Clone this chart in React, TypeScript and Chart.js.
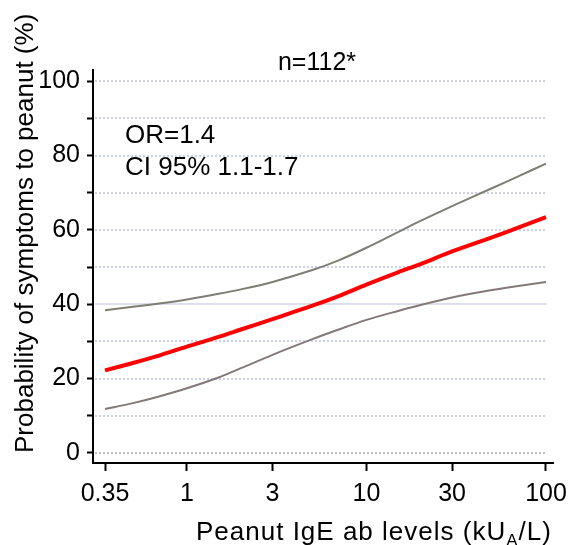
import React, { useEffect, useRef } from 'react';
import { Chart, registerables } from 'chart.js';

Chart.register(...registerables);

// ---- Data ----
const xLevels = [0.35, 0.5, 0.7, 1, 1.5, 2, 3, 5, 7, 10, 15, 20, 30, 50, 70, 100];
const probability = [22.2, 24.2, 26.2, 28.6, 31.2, 33.2, 36.0, 39.6, 42.2, 45.3, 48.6, 50.8, 54.2, 58.0, 60.6, 63.4];
const upperCI = [38.4, 39.3, 40.2, 41.3, 42.8, 44.0, 46.0, 49.2, 51.8, 55.2, 59.4, 62.4, 66.4, 71.2, 74.4, 77.8];
const lowerCI = [11.8, 13.4, 15.2, 17.4, 20.3, 22.8, 26.4, 30.6, 33.2, 35.8, 38.2, 39.8, 41.8, 43.8, 44.9, 46.0];

const xTickValues = [0.35, 1, 3, 10, 30, 100];
const xTickLabels = ['0.35', '1', '3', '10', '30', '100'];
const yTickValues = [0, 10, 20, 30, 40, 50, 60, 70, 80, 90, 100];
const yTickLabels = ['0', '', '20', '', '40', '', '60', '', '80', '', '100'];

const chartTitle = 'n=112*';
const noteLines = ['OR=1.4', 'CI 95% 1.1-1.7'];
const yTitle = 'Probability of symptoms to peanut (%)';
const xTitleMain = 'Peanut IgE ab levels (kU';
const xTitleSub = 'A';
const xTitleEnd = '/L)';
const referenceLine = 40;

const FONT = '"Liberation Sans", Arial, Helvetica, sans-serif';

const overlayPlugin = {
  id: 'overlay',
  beforeDatasetsDraw(chart: any) {
    const { ctx, chartArea, scales } = chart;
    const ys = scales.y;
    const xs = scales.x;
    const x0 = chartArea.left + 2;
    const x1 = xs.getPixelForValue(100) + 1;
    ctx.save();
    for (const v of yTickValues) {
      const y = Math.round(ys.getPixelForValue(v));
      ctx.beginPath();
      if (v === referenceLine) {
        ctx.setLineDash([]);
        ctx.strokeStyle = '#dcdfee';
      } else {
        ctx.setLineDash([2, 2]);
        ctx.strokeStyle = v === 0 ? '#bdbdbd' : '#ccd0e6';
      }
      ctx.lineWidth = 2;
      ctx.moveTo(x0, y);
      ctx.lineTo(x1, y);
      ctx.stroke();
    }
    ctx.restore();
  },
  afterDraw(chart: any) {
    const { ctx } = chart;
    ctx.save();
    ctx.fillStyle = '#000';
    ctx.textBaseline = 'alphabetic';

    // chart title
    ctx.font = `25px ${FONT}`;
    ctx.textAlign = 'center';
    ctx.fillText(chartTitle, 317, 70);

    // note text
    ctx.font = `26px ${FONT}`;
    ctx.textAlign = 'left';
    ctx.fillText(noteLines[0], 125, 143);
    ctx.fillText(noteLines[1], 125, 175);

    // y title
    ctx.save();
    ctx.translate(33, 453);
    ctx.rotate(-Math.PI / 2);
    ctx.font = `26px ${FONT}`;
    ctx.textAlign = 'left';
    ctx.fillText(yTitle, 0, 0);
    ctx.restore();

    // x title with subscript
    let x = 196;
    const base = 540;
    ctx.font = `26px ${FONT}`;
    (ctx as any).letterSpacing = '1px';
    ctx.fillText(xTitleMain, x, base);
    x += ctx.measureText(xTitleMain).width;
    ctx.font = `17px ${FONT}`;
    ctx.fillText(xTitleSub, x, base + 6);
    x += ctx.measureText(xTitleSub).width;
    ctx.font = `26px ${FONT}`;
    ctx.fillText(xTitleEnd, x, base);
    (ctx as any).letterSpacing = '0px';
    ctx.restore();
  },
};

export default function App() {
  const canvasRef = useRef<HTMLCanvasElement | null>(null);

  useEffect(() => {
    const canvas = canvasRef.current;
    if (!canvas) return;
    const toPoints = (ys: number[]) => xLevels.map((x, i) => ({ x, y: ys[i] }));
    const chart = new Chart(canvas, {
      type: 'line',
      data: {
        datasets: [
          {
            label: 'Probability',
            data: toPoints(probability),
            borderColor: '#ff0000',
            borderWidth: 4,
            pointRadius: 0,
            fill: false,
            tension: 0.3,
          },
          {
            label: 'Upper 95% CI',
            data: toPoints(upperCI),
            borderColor: '#7e7e74',
            borderWidth: 2,
            pointRadius: 0,
            fill: false,
            tension: 0.3,
          },
          {
            label: 'Lower 95% CI',
            data: toPoints(lowerCI),
            borderColor: '#847979',
            borderWidth: 2,
            pointRadius: 0,
            fill: false,
            tension: 0.3,
          },
        ],
      },
      options: {
        responsive: false,
        animation: false,
        devicePixelRatio: 1,
        layout: { padding: { top: 70, right: 15, left: 0, bottom: 0 } },
        plugins: {
          legend: { display: false },
          tooltip: { enabled: false },
          title: { display: false },
        },
        scales: {
          x: {
            type: 'logarithmic',
            min: 0.308,
            max: 109.4,
            afterBuildTicks: (s: any) => {
              s.ticks = xTickValues.map((v) => ({ value: v }));
            },
            afterFit: (s: any) => {
              s.height = 82;
              s.paddingLeft = 0;
              s.paddingRight = 0;
            },
            ticks: {
              autoSkip: false,
              maxRotation: 0,
              minRotation: 0,
              padding: 8,
              color: '#000',
              font: { family: FONT, size: 25 },
              callback: (value: any) => {
                const i = xTickValues.indexOf(Number(value));
                return i >= 0 ? xTickLabels[i] : '';
              },
            },
            grid: {
              drawOnChartArea: false,
              drawTicks: true,
              tickLength: 8,
              tickColor: '#000',
              tickWidth: 2,
            },
            border: { display: true, color: '#000', width: 2 },
          },
          y: {
            type: 'linear',
            min: -2.7,
            max: 103,
            afterBuildTicks: (s: any) => {
              s.ticks = yTickValues.map((v) => ({ value: v }));
            },
            afterFit: (s: any) => {
              s.width = 93;
              s.paddingTop = 0;
              s.paddingBottom = 0;
            },
            ticks: {
              autoSkip: false,
              padding: 7,
              color: '#000',
              font: { family: FONT, size: 25 },
              callback: (value: any) => {
                const i = yTickValues.indexOf(Number(value));
                return i >= 0 ? yTickLabels[i] : '';
              },
            },
            grid: {
              drawOnChartArea: false,
              drawTicks: true,
              tickLength: 6,
              tickColor: '#000',
              tickWidth: 2,
            },
            border: { display: true, color: '#000', width: 2 },
          },
        },
      },
      plugins: [overlayPlugin],
    });
    return () => chart.destroy();
  }, []);

  return (
    <div style={{ position: 'fixed', left: 0, top: 0, width: 568, height: 545, background: '#fff' }}>
      <canvas ref={canvasRef} width={568} height={545} style={{ width: 568, height: 545, display: 'block' }} />
    </div>
  );
}
